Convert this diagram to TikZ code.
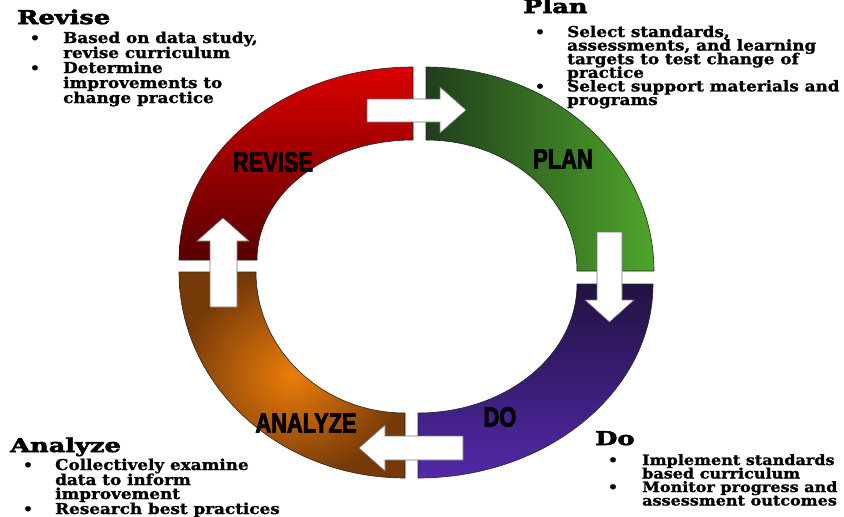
\documentclass[tikz,border=0pt]{standalone}
\usepackage{fontspec}
\setmainfont{DejaVu Serif}
\newfontfamily\bodyfont{DejaVu Serif}[FakeStretch=1.12, BoldFeatures={FakeBold=1.3}]
\newfontfamily\headfont{DejaVu Serif}[FakeStretch=1.35, BoldFeatures={FakeBold=3}]
\newfontfamily\labelfont{Liberation Sans}[FakeStretch=0.78, BoldFeatures={FakeBold=2.5}]
\definecolor{redT}{RGB}{218,0,0}
\definecolor{redB}{RGB}{88,0,2}
\definecolor{grnL}{RGB}{32,62,28}
\definecolor{grnR}{RGB}{78,165,42}
\definecolor{purT}{RGB}{34,18,66}
\definecolor{purB}{RGB}{82,40,168}
\definecolor{orC}{RGB}{236,125,10}
\definecolor{orD}{RGB}{118,58,8}
\tikzset{
  quad/.style={draw=black!85, line width=0.6pt},
  blockarrow/.style={fill=white, draw=black!55, line width=0.6pt, line join=miter},
  lbl/.style={font=\labelfont\bfseries\fontsize{28}{30}\selectfont, inner sep=0pt},
  head/.style={font=\headfont\bfseries\fontsize{19}{20}\selectfont, anchor=base west, inner sep=0pt},
  txt/.style={font=\bodyfont\bfseries\fontsize{15}{15}\selectfont, anchor=base west, inner sep=0pt, text height=9pt, text depth=2.5pt},
  txtsm/.style={txt, font=\bodyfont\bfseries\fontsize{14.3}{15}\selectfont},
  bul/.style={font=\bodyfont\bfseries\fontsize{14}{15}\selectfont, anchor=base, inner sep=0pt, text height=6pt, text depth=0pt}
}
\begin{document}
\begin{tikzpicture}[x=1pt,y=1pt]
\useasboundingbox (0,0) rectangle (844,-517);
% ring quadrants
\shade[quad, top color=redT, bottom color=redB]
  (179,-260) arc[start angle=180,end angle=90,x radius=234pt,y radius=193pt]
  -- (413,-140) arc[start angle=90,end angle=180,x radius=156pt,y radius=120pt] -- cycle;
\shade[quad, left color=grnL, right color=grnR]
  (426,-67) arc[start angle=90,end angle=0,x radius=228pt,y radius=204pt]
  -- (577,-271) arc[start angle=0,end angle=90,x radius=151pt,y radius=131pt] -- cycle;
\shade[quad, inner color=orC, outer color=orD]
  (179,-272) arc[start angle=180,end angle=270,x radius=226pt,y radius=206pt]
  -- (405,-413) arc[start angle=270,end angle=180,x radius=149pt,y radius=141pt] -- cycle;
\shade[quad, top color=purT, bottom color=purB]
  (653,-284) arc[start angle=0,end angle=-90,x radius=235pt,y radius=194pt]
  -- (418,-413) arc[start angle=-90,end angle=0,x radius=159pt,y radius=129pt] -- cycle;
% block arrows
\draw[blockarrow] (367,-99) -- (440,-99) -- (440,-87) -- (466,-110) -- (440,-133) -- (440,-122) -- (367,-122) -- cycle;
\draw[blockarrow] (597,-232) -- (622,-232) -- (622,-300) -- (634,-300) -- (609.5,-322) -- (585,-300) -- (597,-300) -- cycle;
\draw[blockarrow] (463,-436) -- (385,-436) -- (385,-425) -- (359,-448) -- (385,-471) -- (385,-460) -- (463,-460) -- cycle;
\draw[blockarrow] (210,-307) -- (210,-241) -- (197,-241) -- (223,-218) -- (249,-241) -- (237,-241) -- (237,-307) -- cycle;
% ring labels
\node[lbl] (revL) at (273,-162) {REVISE};
\node[lbl] (plnL) at (563,-159) {PLAN};
\node[lbl] (doL) at (500,-417) {DO};
\node[lbl] (anaL) at (306,-423) {ANALYZE};
% Revise text
\node[head] (hRev) at (17,-24) {Revise};
\node[bul] (bR1) at (35,-43) {•};
\node[txt] (tR1) at (63,-43) {Based on data study,};
\node[txt] (tR2) at (63,-58) {revise curriculum};
\node[bul] (bR2) at (35,-73) {•};
\node[txt] (tR3) at (63,-73) {Determine};
\node[txt] (tR4) at (63,-88) {improvements to};
\node[txt] (tR5) at (63,-103) {change practice};
% Plan text
\node[head] (hPln) at (523,-13) {Plan};
\node[bul] (bP1) at (540,-37) {•};
\node[txt] (tP1) at (567,-37) {Select standards,};
\node[txt] (tP2) at (567,-50.6) {assessments, and learning};
\node[txt] (tP3) at (567,-64.2) {targets to test change of};
\node[txt] (tP4) at (567,-77.8) {practice};
\node[bul] (bP2) at (540,-91.4) {•};
\node[txt] (tP5) at (567,-91.4) {Select support materials and};
\node[txt] (tP6) at (567,-105) {programs};
% Analyze text
\node[head] (hAna) at (10,-452) {Analyze};
\node[bul] (bA1) at (28,-470) {•};
\node[txt] (tA1) at (55,-470) {Collectively examine};
\node[txt] (tA2) at (55,-485) {data to inform};
\node[txt] (tA3) at (55,-499) {improvement};
\node[bul] (bA2) at (28,-514) {•};
\node[txt] (tA4) at (55,-514) {Research best practices};
% Do text
\node[head] (hDo) at (595,-445) {Do};
\node[bul] (bD1) at (613,-465) {•};
\node[txtsm] (tD1) at (642,-465) {Implement standards};
\node[txtsm] (tD2) at (642,-478.5) {based curriculum};
\node[bul] (bD2) at (613,-492) {•};
\node[txtsm] (tD3) at (642,-492) {Monitor progress and};
\node[txtsm] (tD4) at (642,-505.5) {assessment outcomes};
\end{tikzpicture}
\end{document}
